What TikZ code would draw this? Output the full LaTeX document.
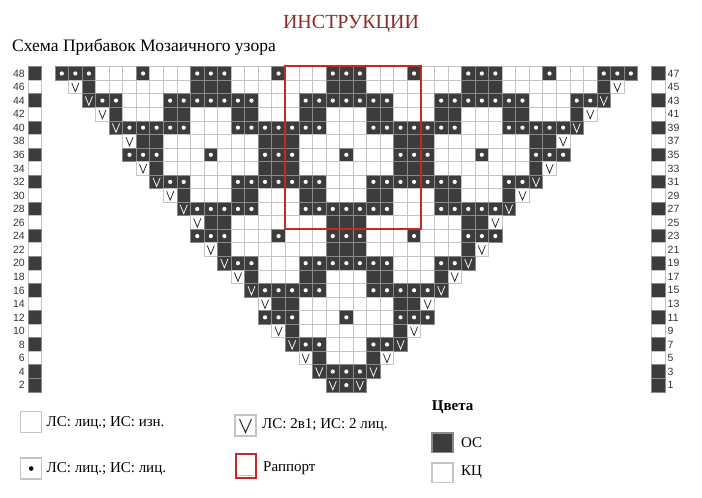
\documentclass[tikz,border=0pt]{standalone}
\usepackage{fontspec}
\setmainfont{Liberation Serif}
\newfontfamily\numfont{Liberation Sans}
\definecolor{darkcell}{HTML}{3C3C3C}
\definecolor{gridc}{HTML}{C4C4C4}
\definecolor{darkb}{HTML}{8A8A8A}
\definecolor{titlered}{HTML}{8E2A2A}
\definecolor{rapred}{HTML}{C62828}
\def\pat{{2,2,2,0,0,0,2,0,0,0,1,1,1,0,0,0,0,0,0,0,2,2,2,2,2,0,0,0,2,2,0,0,0,1,1,0,0,0,1,1,0,0,0,2,2,2,2,2,2,2,0,0,0,0,0,1,1,1,0,0,0,2,0,0,0,2,2,2,0,0,0,0,0,0,0,1,1,1,0,0,0,0,0,2,2,2,2,2,2,2,0,0,0,1,1,0,0,0,1,1,2,2,2,2,2,0,0,0,2,2,1,1,1,0,0,0,0,0,0,0}}
\begin{document}
\begin{tikzpicture}[x=1pt,y=-1pt,
  whitecell/.style={fill=white,draw=gridc,line width=0.8pt},
  darkcellst/.style={fill=darkcell,draw=darkb,line width=0.8pt},
  vmark/.style={line width=0.75pt,line join=miter},
  numst/.style={font=\numfont\fontsize{10.5}{12}\selectfont,text=black!80,inner sep=0pt},
  legtext/.style={font=\fontsize{15}{17}\selectfont,anchor=west,inner sep=0pt},
  legbox/.style={draw=gridc,line width=1.2pt,fill=white}]
\useasboundingbox (0,0) rectangle (702,498);
\fill[white] (0,0) rectangle (702,498);
% title
\node[font=\fontsize{20}{24}\selectfont,text=titlered,inner sep=0pt] (title) at (351,24) {ИНСТРУКЦИИ};
\node[font=\fontsize{17.5}{20}\selectfont,anchor=west,inner sep=0pt] (sub) at (12,47) {Схема Прибавок Мозаичного узора};
% chart
\foreach \r in {0,...,23}{
  \pgfmathtruncatemacro\lft{\r-floor(\r/6)}
  \pgfmathtruncatemacro\rgt{42-\lft}
  \pgfmathtruncatemacro\rmod{mod(\r,12)}
  \pgfmathtruncatemacro\dk{(mod(\r,2)==0)||(\r==23)}
  \pgfmathtruncatemacro\hv{mod(\r,6)!=0}
  \pgfmathsetmacro\yy{66.7+13.55*\r}
  \pgfmathtruncatemacro\nl{48-2*\r}
  \pgfmathtruncatemacro\nr{47-2*\r}
  \ifnum\dk=1
    \path[darkcellst] (28.3,\yy) rectangle ++(13.4,13.55);
    \path[darkcellst] (651.7,\yy) rectangle ++(13.4,13.55);
  \else
    \path[whitecell] (28.3,\yy) rectangle ++(13.4,13.55);
    \path[whitecell] (651.7,\yy) rectangle ++(13.4,13.55);
  \fi
  \node[numst,anchor=east] (nl\r) at (25,\yy+6.9) {\nl};
  \node[numst,anchor=west] (nr\r) at (667.5,\yy+6.9) {\nr};
  \foreach \c in {\lft,...,\rgt}{
    \pgfmathsetmacro\xx{55+13.55*\c}
    \pgfmathtruncatemacro\idx{\rmod*10+mod(\c,10)}
    \pgfmathtruncatemacro\ctype{\pat[\idx]}
    \ifnum\r=23 \ifnum\c=21 \def\ctype{2}\fi\fi
    \pgfmathtruncatemacro\isv{(\hv==1)&&((\c==\lft)||(\c==\rgt))}
    \ifnum\isv=1
      \ifnum\dk=1
        \path[darkcellst] (\xx,\yy) rectangle ++(13.55,13.55);
        \draw[vmark,white] (\xx+3.2,\yy+2.6) -- (\xx+6.775,\yy+11.4) -- (\xx+10.35,\yy+2.6);
      \else
        \path[whitecell] (\xx,\yy) rectangle ++(13.55,13.55);
        \draw[vmark,black!85] (\xx+3.2,\yy+2.6) -- (\xx+6.775,\yy+11.4) -- (\xx+10.35,\yy+2.6);
      \fi
    \else
      \ifcase\ctype
        \path[whitecell] (\xx,\yy) rectangle ++(13.55,13.55);
      \or
        \path[darkcellst] (\xx,\yy) rectangle ++(13.55,13.55);
      \or
        \path[darkcellst] (\xx,\yy) rectangle ++(13.55,13.55);
        \fill[white] (\xx+6.775,\yy+6.775) circle[radius=2.1pt];
      \fi
    \fi
  }
}
% rapport frame
\draw[rapred,line width=2pt] (285.35,66.2) rectangle (420.85,229.3);
% legend
\path[legbox] (20.7,411.7) rectangle (41.7,432.7);
\node[legtext] (l1) at (46.5,422.5) {ЛС: лиц.; ИС: изн.};
\path[legbox] (20.7,458) rectangle (41.7,479);
\fill[black] (31.2,468.5) circle[radius=2.3pt];
\node[legtext] (l2) at (46.5,469) {ЛС: лиц.; ИС: лиц.};
\path[legbox] (235,415) rectangle (256,436);
\draw[line width=1pt,black!85] (239.5,419) -- (245.5,432.5) -- (251.5,419);
\node[legtext] (l3) at (262,425) {ЛС: 2в1; ИС: 2 лиц.};
\draw[gridc,line width=0.8pt] (238,475.5) -- (254,475.5);
\draw[rapred,line width=2pt] (236,453.7) rectangle (256.3,478.3);
\node[legtext] (l4) at (263,468.5) {Раппорт};
\node[legtext,font=\bfseries\fontsize{15}{17}\selectfont] (colors) at (431.7,407.5) {Цвета};
\path[fill=darkcell,draw=darkb,line width=1.2pt] (432,433) rectangle (453,452.7);
\node[legtext] (l5) at (461,443) {ОС};
\path[legbox] (432,463) rectangle (453,482.7);
\node[legtext] (l6) at (461,472.5) {КЦ};
\end{tikzpicture}
\end{document}
